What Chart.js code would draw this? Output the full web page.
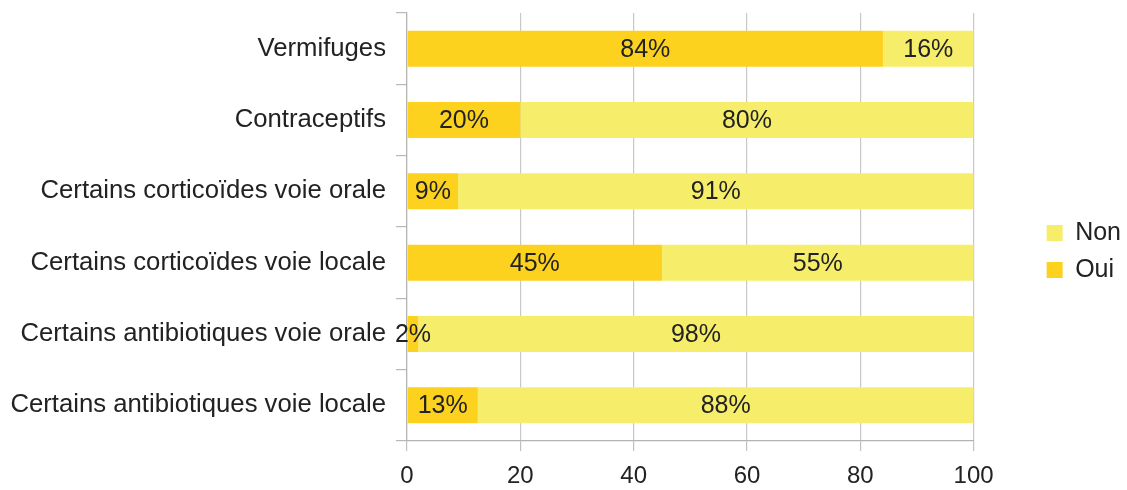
<!DOCTYPE html>
<html>
<head>
<meta charset="utf-8">
<script src="https://cdn.jsdelivr.net/npm/chart.js@4.4.0/dist/chart.umd.min.js"></script>
<style>
  html, body { margin: 0; padding: 0; background: #fff; }
  #wrap { width: 1127px; height: 490px; }
</style>
</head>
<body>
<div id="wrap"><canvas id="myChart"></canvas></div>
<script>
const categories = [
  "Vermifuges",
  "Contraceptifs",
  "Certains corticoïdes voie orale",
  "Certains corticoïdes voie locale",
  "Certains antibiotiques voie orale",
  "Certains antibiotiques voie locale"
];
const ouiValues = [84, 20, 9, 45, 2, 12.5];
const nonValues = [16, 80, 91, 55, 98, 87.5];
const xTicks = [0, 20, 40, 60, 80, 100];

const textColor = "#222222";
const fontFamily = "'Liberation Sans', Arial, sans-serif";

// percentages written in the middle of every bar piece
const barLabels = {
  id: "barLabels",
  afterDatasetsDraw(chart) {
    const ctx = chart.ctx;
    ctx.save();
    ctx.font = "25px " + fontFamily;
    ctx.fillStyle = textColor;
    ctx.textAlign = "center";
    ctx.textBaseline = "middle";
    chart.data.datasets.forEach((ds, i) => {
      chart.getDatasetMeta(i).data.forEach((bar, j) => {
        const v = ds.data[j];
        ctx.fillText(Math.round(v) + "%", (bar.x + bar.base) / 2, bar.y + 1);
      });
    });
    ctx.restore();
  }
};

var ctx = document.getElementById("myChart").getContext("2d");
var myChart = new Chart(ctx, {
  type: "bar",
  data: {
    labels: categories,
    datasets: [
      {
        label: "Oui",
        data: ouiValues,
        backgroundColor: "#FDD21F",
        borderWidth: 0
      },
      {
        label: "Non",
        data: nonValues,
        backgroundColor: "#F6EE6A",
        borderWidth: 0
      }
    ]
  },
  options: {
    indexAxis: "y",
    responsive: true,
    maintainAspectRatio: false,
    animation: false,
    events: [],
    categoryPercentage: 1,
    barPercentage: 0.505,
    layout: { padding: { top: 13, left: 0, right: -4, bottom: 0 } },
    scales: {
      x: {
        stacked: true,
        min: 0,
        max: 100,
        afterBuildTicks: (s) => { s.ticks = xTicks.map((v) => ({ value: v })); },
        afterFit: (s) => { s.height = 49; s.paddingLeft = 0; s.paddingRight = 0; },
        grid: { color: "#c8c8c8", lineWidth: 1.2, tickLength: 10, tickColor: "#c0c0c0" },
        border: { color: "#b3b3b3", width: 1.2 },
        ticks: { color: textColor, font: { size: 24, family: fontFamily }, padding: 11 }
      },
      y: {
        stacked: true,
        afterFit: (s) => { s.width = 407; s.paddingTop = 0; s.paddingBottom = 0; },
        grid: { offset: true, drawOnChartArea: false, tickLength: 11, color: "#b8b8b8", lineWidth: 1.2 },
        border: { color: "#b3b3b3", width: 1.2 },
        ticks: { color: textColor, font: { size: 25.7, family: fontFamily }, padding: 10 }
      },
      ySpace: {
        type: "category",
        position: "right",
        afterFit: (s) => { s.width = 61; s.paddingTop = 0; s.paddingBottom = 0; },
        grid: { display: false },
        border: { display: false },
        ticks: { display: false }
      }
    },
    plugins: {
      legend: {
        position: "right",
        reverse: true,
        labels: {
          boxWidth: 16,
          boxHeight: 16,
          padding: 12,
          color: textColor,
          font: { size: 25, family: fontFamily }
        }
      },
      tooltip: { enabled: false }
    }
  },
  plugins: [barLabels]
});
</script>
</body>
</html>
